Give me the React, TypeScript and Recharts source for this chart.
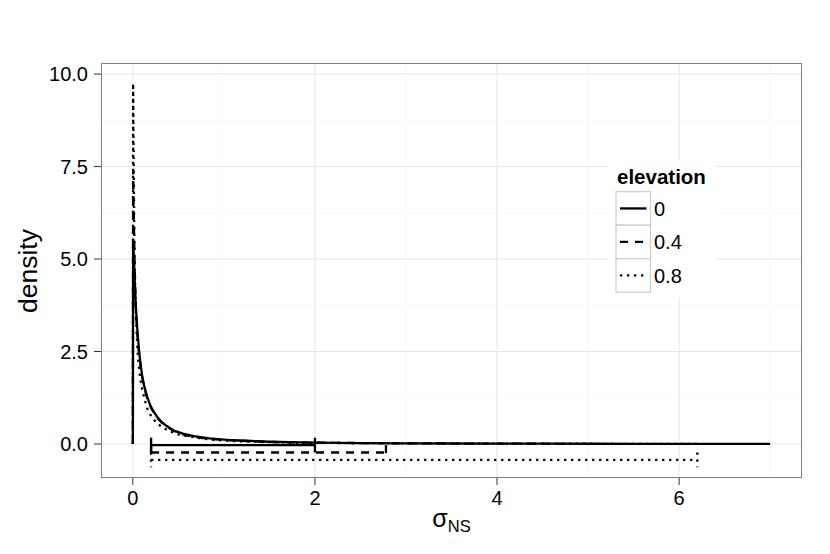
import React from "react";
import {
  LineChart,
  Line,
  XAxis,
  YAxis,
  CartesianGrid,
  Legend,
  Label,
} from "recharts";

type Pt = { x: number; y: number };

const elevations = ["0", "0.4", "0.8"];

// density of sigma_NS as [sigma, density]
const curve0: [number, number][] = [
  [0, 0], [0.003, 5.55], [0.012, 5.0], [0.022, 4.3], [0.032, 3.75], [0.042, 3.35],
  [0.055, 2.9], [0.071, 2.45], [0.09, 2.05], [0.105, 1.8], [0.126, 1.55], [0.16, 1.25],
  [0.19, 1.05], [0.217, 0.92], [0.27, 0.72], [0.32, 0.58], [0.364, 0.5], [0.45, 0.36],
  [0.55, 0.28], [0.67, 0.21], [0.84, 0.15], [1.0, 0.12], [1.1, 0.1], [1.3, 0.08],
  [1.5, 0.06], [1.83, 0.042], [2.0, 0.035], [2.5, 0.025], [3.0, 0.018], [3.5, 0.013],
  [4.0, 0.01], [4.5, 0.008], [5.0, 0.006], [5.5, 0.005], [6.0, 0.004], [6.5, 0.003],
  [7.0, 0.002],
];

const curve04: [number, number][] = [
  [0, 0], [0.003, 7.4], [0.01, 6.2], [0.018, 5.0], [0.027, 4.1], [0.037, 3.5],
  [0.05, 2.95], [0.065, 2.5], [0.085, 2.1], [0.105, 1.78], [0.126, 1.52], [0.16, 1.22],
  [0.19, 1.03], [0.217, 0.9], [0.27, 0.7], [0.32, 0.57], [0.364, 0.49], [0.45, 0.35],
  [0.55, 0.26], [0.67, 0.19], [0.84, 0.14], [1.0, 0.11], [1.3, 0.075], [1.5, 0.055],
  [1.83, 0.04], [2.2, 0.03], [2.8, 0.02], [3.5, 0.012], [4.2, 0.007], [4.8, 0.004],
];

const curve08: [number, number][] = [
  [0, 0], [0.003, 9.75], [0.008, 7.8], [0.014, 6.0], [0.022, 4.6], [0.032, 3.6],
  [0.042, 3.0], [0.053, 2.45], [0.065, 2.1], [0.08, 1.8], [0.1, 1.5], [0.13, 1.2],
  [0.163, 0.92], [0.2, 0.76], [0.25, 0.6], [0.31, 0.47], [0.4, 0.35], [0.51, 0.25],
  [0.62, 0.2], [0.73, 0.16], [0.9, 0.11], [1.1, 0.08], [1.4, 0.055], [1.8, 0.035],
  [2.5, 0.022], [3.5, 0.012], [4.5, 0.007], [5.5, 0.004], [6.2, 0.002],
];

// interval bars under the curves
const intervalLow = [0.2, 0.2, 0.2];
const intervalHigh = [2.0, 2.78, 6.2];
const intervalY = [-0.03, -0.23, -0.43];
const capHalf = 0.2;

const xTicks = [0, 2, 4, 6];
const yTicks = [0, 2.5, 5, 7.5, 10];
const xMinor = [1, 3, 5, 7];
const yMinor = [1.25, 3.75, 6.25, 8.75];

const curves = [curve0, curve04, curve08];
const dashes = [undefined, "8 7", "2.3 4.7"];

const toPts = (c: [number, number][]): Pt[] => c.map(([x, y]) => ({ x, y }));

const font = "'Liberation Sans', Arial, Helvetica, sans-serif";
const lw = 2.3;

function LegendBox() {
  return (
    <svg width={108} height={137} style={{ display: "block" }}>
      <rect x={0} y={0} width={108} height={137} fill="#fff" />
      <text x={9} y={24} fontSize={20.5} fontWeight="bold" fontFamily={font} fill="#000">
        elevation
      </text>
      {elevations.map((e, i) => {
        const top = 31.7 + i * 33.5;
        const mid = top + 16.75;
        return (
          <g key={e}>
            <rect x={8} y={top} width={34.5} height={33.5} fill="#fff" stroke="#cccccc" strokeWidth={1.2} />
            <line x1={12} x2={38.5} y1={mid} y2={mid} stroke="#000" strokeWidth={lw} strokeDasharray={dashes[i]} />
            <text x={46} y={mid + 7.3} fontSize={20} fontFamily={font} fill="#000">
              {e}
            </text>
          </g>
        );
      })}
    </svg>
  );
}

function XTitle(props: any) {
  const vb = props.viewBox || {};
  const cx = vb.x + vb.width / 2;
  return (
    <text x={cx} y={vb.y + 49} textAnchor="middle" fontFamily={font} fontSize={25} fill="#000">
      σ
      <tspan fontSize={16.5} dy={5}>
        NS
      </tspan>
    </text>
  );
}

function YTitle() {
  return (
    <text
      x={37}
      y={271}
      transform="rotate(-90, 37, 271)"
      textAnchor="middle"
      fontFamily={font}
      fontSize={26.5}
      fill="#000"
    >
      density
    </text>
  );
}

export default function App() {
  const tick = { fontSize: 20, fill: "#000", fontFamily: font };
  return (
    <div style={{ position: "absolute", left: 0, top: 0, width: 830, height: 554, background: "#fff" }}>
      <LineChart width={830} height={554} margin={{ top: 63, right: 28, left: 0, bottom: 0 }}>
        <CartesianGrid horizontalValues={yMinor} verticalValues={xMinor} stroke="#f7f7f7" strokeWidth={1} />
        <CartesianGrid horizontalValues={yTicks} verticalValues={xTicks} stroke="#e5e5e5" strokeWidth={1} />
        <XAxis
          dataKey="x"
          type="number"
          domain={[-0.35, 7.35]}
          allowDataOverflow
          ticks={xTicks}
          height={76}
          axisLine={false}
          tickLine={{ stroke: "#333" }}
          tickSize={7}
          tickMargin={6}
          tick={tick}
        >
          <Label content={<XTitle />} />
        </XAxis>
        <YAxis
          type="number"
          domain={[-0.92, 10.3]}
          allowDataOverflow
          ticks={yTicks}
          width={101}
          axisLine={false}
          tickLine={{ stroke: "#333" }}
          tickSize={7}
          tickMargin={6}
          tick={tick}
          tickFormatter={(v: number) => v.toFixed(1)}
        >
          <Label content={<YTitle />} />
        </YAxis>
        {curves.map((c, i) => (
          <Line
            key={"d" + i}
            data={toPts(c)}
            dataKey="y"
            type="linear"
            stroke="#000"
            strokeWidth={lw}
            strokeDasharray={dashes[i]}
            dot={false}
            isAnimationActive={false}
            name={elevations[i]}
          />
        ))}
        {elevations.map((e, i) => (
          <Line
            key={"iv" + i}
            data={[
              { x: intervalLow[i], y: intervalY[i] },
              { x: intervalHigh[i], y: intervalY[i] },
            ]}
            dataKey="y"
            type="linear"
            stroke="#000"
            strokeWidth={lw}
            strokeDasharray={dashes[i]}
            dot={false}
            legendType="none"
            isAnimationActive={false}
          />
        ))}
        {elevations.flatMap((e, i) =>
          [intervalLow[i], intervalHigh[i]].map((cx, j) => (
            <Line
              key={"cap" + i + "-" + j}
              data={[
                { x: cx, y: intervalY[i] + capHalf },
                { x: cx, y: intervalY[i] - capHalf },
              ]}
              dataKey="y"
              type="linear"
              stroke="#000"
              strokeWidth={lw}
              strokeDasharray={dashes[i]}
              dot={false}
              legendType="none"
              isAnimationActive={false}
            />
          ))
        )}
        <Legend
          layout="vertical"
          align="center"
          verticalAlign="middle"
          wrapperStyle={{ left: 608, top: 160, width: 108 }}
          content={() => <LegendBox />}
        />
      </LineChart>
      <div
        style={{
          position: "absolute",
          left: 101,
          top: 63,
          width: 701,
          height: 415,
          border: "1px solid #7f7f7f",
          boxSizing: "border-box",
          pointerEvents: "none",
        }}
      />
    </div>
  );
}
